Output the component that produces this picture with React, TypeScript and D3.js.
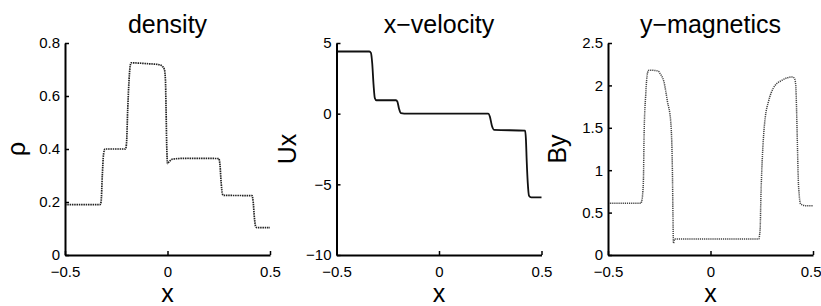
import React, { useEffect, useRef } from 'react';
import * as d3 from 'd3';

// values, [x, value]
const densityPoints: [number, number][] = [
    [-0.5, 0.19], [-0.33, 0.19], [-0.324, 0.2], [-0.318, 0.3], [-0.312, 0.38], [-0.305, 0.4],
    [-0.205, 0.4], [-0.2, 0.42], [-0.194, 0.55], [-0.186, 0.68], [-0.178, 0.725],
    [-0.1, 0.722], [-0.04, 0.718], [-0.025, 0.712], [-0.015, 0.7], [-0.01, 0.66],
    [-0.007, 0.55], [-0.004, 0.42], [0.0, 0.345], [0.008, 0.352], [0.025, 0.362],
    [0.1, 0.365], [0.25, 0.364], [0.256, 0.34], [0.262, 0.27], [0.268, 0.23], [0.275, 0.225],
    [0.412, 0.224], [0.418, 0.2], [0.424, 0.14], [0.43, 0.108], [0.437, 0.103], [0.5, 0.103],
];

const velocityPoints: [number, number][] = [
    [-0.5, 4.4], [-0.34, 4.4], [-0.332, 4.3], [-0.326, 3.6], [-0.319, 2.0], [-0.313, 1.1],
    [-0.305, 0.95], [-0.21, 0.95], [-0.203, 0.85], [-0.195, 0.35], [-0.186, 0.03],
    [-0.17, 0.0], [0.24, 0.0], [0.248, -0.2], [0.258, -0.85], [0.27, -1.15], [0.42, -1.2],
    [0.424, -1.8], [0.428, -3.4], [0.433, -4.9], [0.439, -5.8], [0.45, -5.92], [0.5, -5.92],
];

const magneticsPoints: [number, number][] = [
    [-0.5, 0.61], [-0.34, 0.61], [-0.336, 0.63], [-0.33, 0.75], [-0.327, 0.9], [-0.324, 1.41],
    [-0.316, 1.89], [-0.307, 2.15], [-0.3, 2.18], [-0.255, 2.17], [-0.246, 2.14],
    [-0.227, 2.04], [-0.21, 1.81], [-0.194, 1.57], [-0.186, 1.02], [-0.183, 0.44],
    [-0.181, 0.14], [-0.175, 0.19], [-0.16, 0.19], [0.235, 0.19], [0.242, 0.3],
    [0.246, 0.7], [0.252, 1.1], [0.259, 1.41], [0.267, 1.62], [0.283, 1.81], [0.307, 1.97],
    [0.348, 2.06], [0.4, 2.1], [0.41, 2.08], [0.416, 2.0], [0.42, 1.7], [0.424, 1.3],
    [0.428, 0.9], [0.433, 0.7], [0.44, 0.6], [0.47, 0.58], [0.5, 0.58],
];

const xTicks = [-0.5, 0, 0.5];
const densityTicks = [0, 0.2, 0.4, 0.6, 0.8];
const velocityTicks = [-10, -5, 0, 5];
const magneticsTicks = [0, 0.5, 1, 1.5, 2, 2.5];

const titles = ['density', 'x\u2212velocity', 'y\u2212magnetics'];
const yLabels = ['\u03c1', 'Ux', 'By'];

const fmt = (v: number) => String(v).replace('-', '\u2212');

const App = () => {
    const svgRef = useRef<SVGSVGElement>(null);

    useEffect(() => {
        const width = 821;
        const height = 306;
        const plotW = 205;
        const top = 43;
        const bottom = 255;
        const font = '"Liberation Sans", Arial, Helvetica, sans-serif';

        const panels = [
            { points: densityPoints, ticks: densityTicks, domain: [0, 0.8], stroke: '#222', sw: 1.7, dash: '1.5 0.8', labelX: 25 },
            { points: velocityPoints, ticks: velocityTicks, domain: [-10, 5], stroke: '#111', sw: 1.8, dash: null, labelX: 296 },
            { points: magneticsPoints, ticks: magneticsTicks, domain: [0, 2.5], stroke: '#444', sw: 1.5, dash: '1.2 0.9', labelX: 566 },
        ];

        const svg = d3.select(svgRef.current)
            .attr('width', width)
            .attr('height', height);
        svg.selectAll('*').remove();

        panels.forEach((p, i) => {
            const left = 65 + i * 271.5;
            const x = d3.scaleLinear().domain([-0.5, 0.5]).range([left, left + plotW]);
            const y = d3.scaleLinear().domain(p.domain).range([bottom, top]);
            const g = svg.append('g');

            const line = d3.line<[number, number]>()
                .x(d => x(d[0]))
                .y(d => y(d[1]))
                .curve(d3.curveMonotoneX);

            const path = g.append('path')
                .datum(p.points)
                .attr('d', line)
                .attr('fill', 'none')
                .attr('stroke', p.stroke)
                .attr('stroke-width', p.sw);
            if (p.dash) path.attr('stroke-dasharray', p.dash);

            const xAxis = g.append('g')
                .attr('transform', `translate(0,${bottom})`)
                .call(d3.axisBottom(x).tickValues(xTicks).tickFormat(d => fmt(d as number))
                    .tickSizeInner(-4).tickSizeOuter(0).tickPadding(11));
            const yAxis = g.append('g')
                .attr('transform', `translate(${left},0)`)
                .call(d3.axisLeft(y).tickValues(p.ticks).tickFormat(d => fmt(d as number))
                    .tickSizeInner(-4).tickSizeOuter(0).tickPadding(5));

            [xAxis, yAxis].forEach(a => {
                a.attr('font-family', font).attr('font-size', 15);
                a.select('.domain').attr('stroke', '#000').attr('stroke-width', 2);
                a.selectAll('.tick line').attr('stroke', '#000').attr('stroke-width', 1.5);
                a.selectAll('.tick text').attr('fill', '#000');
            });

            // the last panel's right label sits against the page edge
            if (i === 2) {
                xAxis.selectAll<SVGTextElement, number>('.tick text')
                    .filter(d => d === 0.5)
                    .attr('text-anchor', 'end')
                    .attr('x', 8);
            }

            g.append('text')
                .attr('x', left + plotW / 2)
                .attr('y', 33)
                .attr('text-anchor', 'middle')
                .style('font-family', font)
                .style('font-size', '25px')
                .text(titles[i]);

            g.append('text')
                .attr('x', left + plotW / 2)
                .attr('y', 302)
                .attr('text-anchor', 'middle')
                .style('font-family', font)
                .style('font-size', '25px')
                .text('x');

            g.append('text')
                .attr('transform', `translate(${p.labelX},${(top + bottom) / 2}) rotate(-90)`)
                .attr('text-anchor', 'middle')
                .style('font-family', font)
                .style('font-size', '25px')
                .text(yLabels[i]);
        });
    }, []);

    return (
        <svg
            ref={svgRef}
            style={{ position: 'absolute', left: 0, top: 0, background: '#fff' }}
        />
    );
};

export default App;
